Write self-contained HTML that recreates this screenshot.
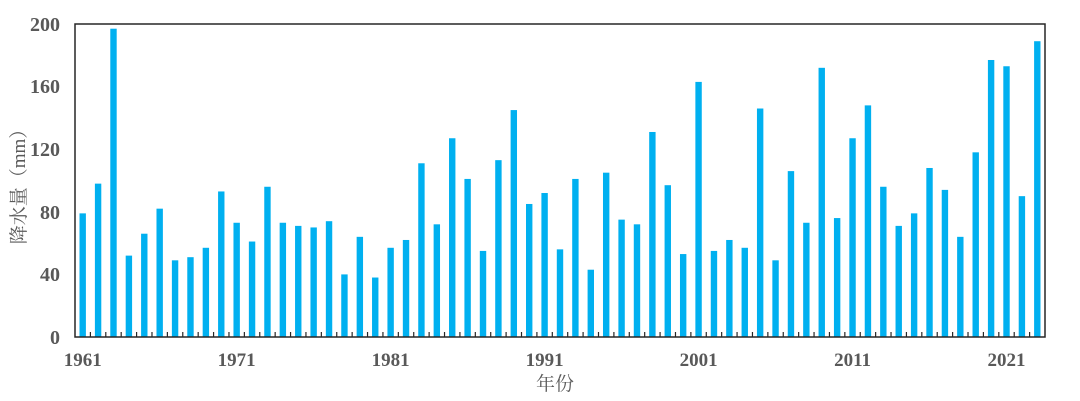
<!DOCTYPE html>
<html><head><meta charset="utf-8"><style>
html,body{margin:0;padding:0;background:#fff;width:1080px;height:401px;overflow:hidden}
</style></head><body>
<svg id="s" width="1080" height="401" xmlns="http://www.w3.org/2000/svg">
<g id="bars"></g>
<g id="ticks"></g>
<rect x="75" y="24" width="970" height="313" fill="none" stroke="#262626" stroke-width="1.5"/>
<g font-family="Liberation Serif, serif" font-weight="bold" font-size="20" fill="#595959" text-anchor="end">
<text x="60" y="344">0</text>
<text x="60" y="281">40</text>
<text x="60" y="219">80</text>
<text x="60" y="156">120</text>
<text x="60" y="93">160</text>
<text x="60" y="31">200</text>
</g>
<g id="xl" font-family="Liberation Serif, serif" font-weight="bold" font-size="19" fill="#595959" text-anchor="middle"></g>
<text x="555" y="390" font-family="Liberation Serif, 'Noto Serif CJK SC', serif" font-size="19" fill="#595959" text-anchor="middle">年份</text>
<text transform="translate(25,182) rotate(-90)" font-family="Liberation Serif, 'Noto Serif CJK SC', serif" font-size="19" fill="#595959" text-anchor="middle">降水量（mm）</text>
</svg>
<script>
var v=[79,98,197,52,66,82,49,51,57,93,73,61,96,73,71,70,74,40,64,38,57,62,111,72,127,101,55,113,145,85,92,56,101,43,105,75,72,131,97,53,163,55,62,57,146,49,106,73,172,76,127,148,96,71,79,108,94,64,118,177,173,90,189];
var ns="http://www.w3.org/2000/svg",w=970/63,b=document.getElementById('bars'),t=document.getElementById('ticks'),xl=document.getElementById('xl');
for(var i=0;i<63;i++){var c=75+w*(i+0.5),h=v[i]*313/200;
var r=document.createElementNS(ns,'rect');r.setAttribute('x',c-3.2);r.setAttribute('width',6.4);r.setAttribute('y',337-h);r.setAttribute('height',h);r.setAttribute('fill','#00b0f0');b.appendChild(r);
if(i>0){var l=document.createElementNS(ns,'line');var x=75+w*i;l.setAttribute('x1',x);l.setAttribute('x2',x);l.setAttribute('y1',332);l.setAttribute('y2',337);l.setAttribute('stroke','#262626');l.setAttribute('stroke-width',1.2);t.appendChild(l);}
if(i%10==0){var tx=document.createElementNS(ns,'text');tx.setAttribute('x',c);tx.setAttribute('y',366);tx.textContent=1961+i;xl.appendChild(tx);}}
</script>
</body></html>
